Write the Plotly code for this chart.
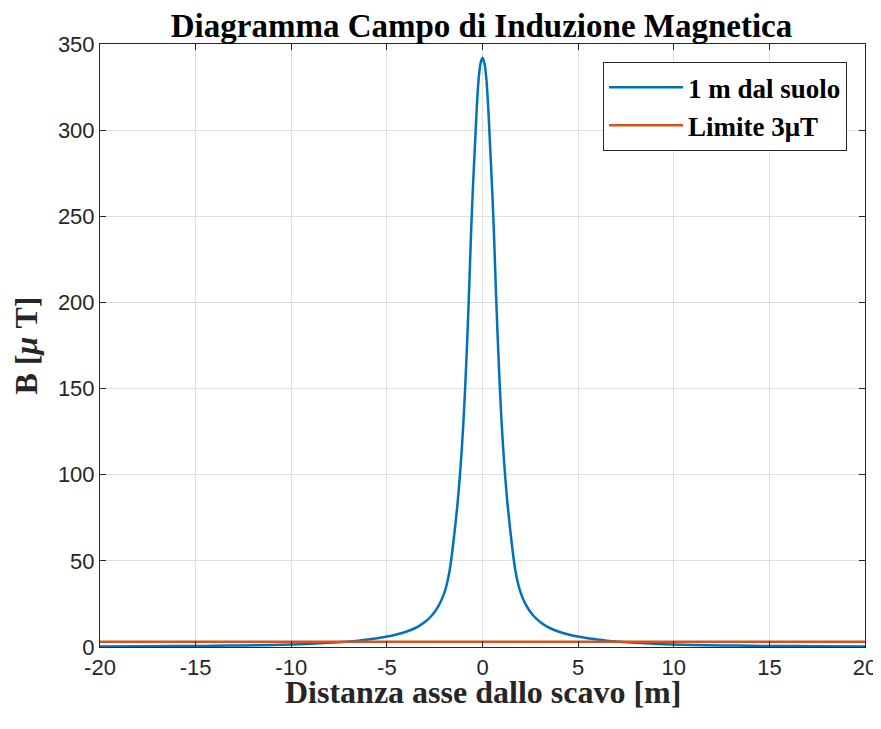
import plotly.graph_objects as go

# distance from cable axis [m] (positive side, mirrored) and field [uT]
x_pos = [0.0, 0.1, 0.2, 0.3, 0.4, 0.5, 0.6, 0.7, 0.8, 0.9, 1.0, 1.1, 1.2, 1.3, 1.4,
         1.5, 1.63, 1.75, 1.9, 2.05, 2.25, 2.45, 2.7, 3.0, 3.35, 3.75, 4.2, 4.6,
         5.0, 5.5, 6.0, 6.5, 7.0, 8.0, 9.0, 10.0, 11.0, 12.5, 14.0, 15.0, 17.5, 20.0]
b_pos = [342, 339, 330, 313, 290, 267, 240, 207, 178, 152, 130, 112, 97, 84, 73,
         63, 51, 42.5, 35, 29.8, 24.9, 21.2, 17.7, 14.6, 12.0, 9.85, 8.1, 7.0,
         6.1, 5.1, 4.35, 3.7, 3.15, 2.4, 1.85, 1.45, 1.15, 0.9, 0.7, 0.6, 0.45, 0.35]

x_vals = [-v for v in x_pos[:0:-1]] + x_pos
b_vals = b_pos[:0:-1] + b_pos

limit_x = [-20, 20]
limit_b = [3, 3]

x_ticks = [-20, -15, -10, -5, 0, 5, 10, 15, 20]
y_ticks = [0, 50, 100, 150, 200, 250, 300, 350]

SERIF = "Liberation Serif, Times New Roman, serif"
SANS = "Liberation Sans, Arial, sans-serif"

# page body has an 8px margin; figure sized so the plot lands where the reference has it
W, H = 873, 721
L, R, T, B = 92, 16, 36, 82
plot_h = H - T - B

fig = go.Figure()
fig.add_trace(go.Scatter(x=x_vals, y=b_vals, mode="lines", name="<b>1 m dal suolo</b>",
                         line=dict(color="#0072BD", width=2.5, shape="spline", smoothing=0.5)))
fig.add_trace(go.Scatter(x=limit_x, y=limit_b, mode="lines", name="<b>Limite 3μT</b>",
                         line=dict(color="#D95319", width=2.5)))

axis_common = dict(showline=True, linecolor="#262626", linewidth=1, mirror="ticks",
                   ticks="inside", ticklen=6, tickcolor="#262626", automargin=False,
                   showgrid=True, gridcolor="#dfdfdf", gridwidth=1, zeroline=False,
                   tickfont=dict(family=SANS, size=22, color="#262626"))

fig.update_layout(
    width=W, height=H,
    margin=dict(l=L, r=R, t=T, b=B),
    paper_bgcolor="white", plot_bgcolor="white",
    title=dict(text="<b>Diagramma Campo di Induzione Magnetica</b>", x=473.5 / W, xanchor="center",
               y=1 - 17 / H, yanchor="middle",
               font=dict(family=SERIF, size=33, color="black")),
    xaxis=dict(range=[-20, 20], tickvals=x_ticks, ticktext=[str(v) for v in x_ticks],
               ticklabelstandoff=1, **axis_common),
    yaxis=dict(range=[0, 350], tickvals=y_ticks, ticktext=[str(v) for v in y_ticks],
               title=dict(text="<b>B [<i>μ</i> T]</b>", standoff=10,
                          font=dict(family=SERIF, size=32, color="#262626")),
               **axis_common),
    legend=dict(x=0.9765, xanchor="right", y=0.970, yanchor="top",
                bgcolor="white", bordercolor="#262626", borderwidth=1,
                font=dict(family=SERIF, size=27, color="black"),
                itemwidth=74, tracegroupgap=0),
    showlegend=True,
    annotations=[dict(text="<b>Distanza asse dallo scavo [m]</b>", xref="paper", yref="paper",
                      x=0.5, xanchor="center", y=-45 / plot_h, yanchor="middle", showarrow=False,
                      font=dict(family=SERIF, size=32, color="#262626"))],
)

fig.write_html("out.html")
